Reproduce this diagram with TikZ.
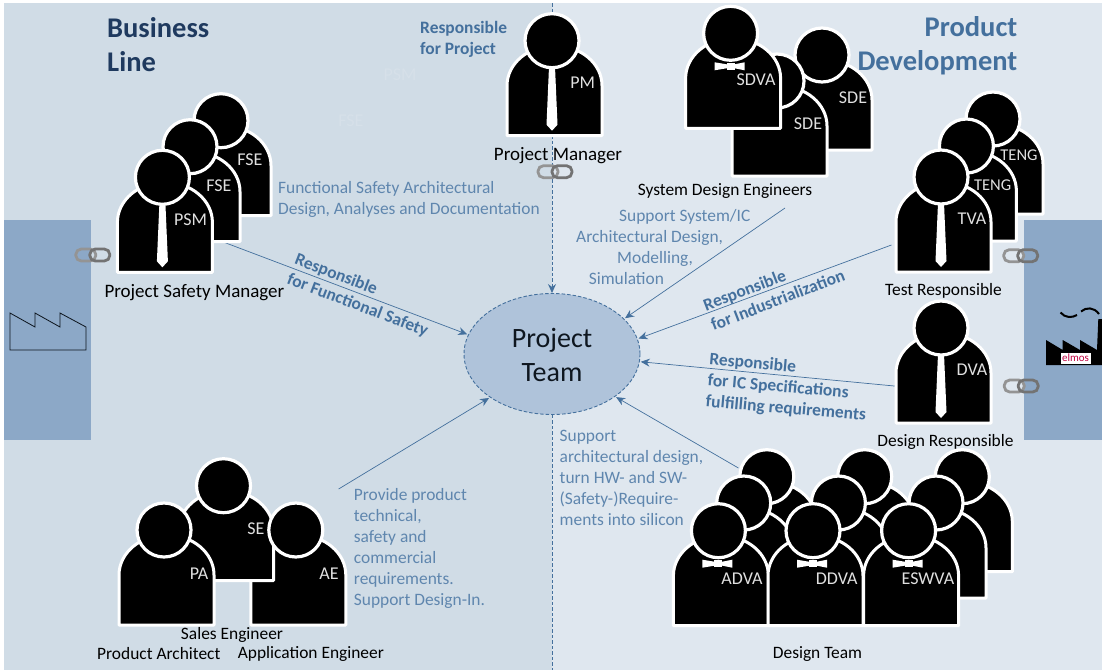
\documentclass[tikz,border=0pt]{standalone}
\usepackage{fontspec}
\setmainfont{Carlito}
\usetikzlibrary{arrows.meta,shapes.geometric}
\definecolor{leftpanel}{HTML}{D0DCE6}
\definecolor{rightpanel}{HTML}{DFE7EF}
\definecolor{sidebox}{HTML}{8CA8C7}
\definecolor{teamfill}{HTML}{AFC3DA}
\definecolor{linkblue}{HTML}{44709D}
\definecolor{noteblue}{HTML}{5F86AE}
\definecolor{titledark}{HTML}{1F3A5F}
\definecolor{ghosttext}{HTML}{D6E0E9}
\tikzset{
    bodyline/.style = {draw=white, fill=black, line width=3pt, line join=round},
    headline/.style = {draw=white, fill=black, line width=3.2pt},
    wearline/.style = {fill=white, draw=none},
    panellink/.style = {draw=#1, line width=2.8pt, rounded corners=5.5pt},
    toteam/.style = {draw=linkblue, line width=0.7pt, -{Stealth[length=9pt,width=8pt]}, shorten >=1pt},
    divider/.style = {draw=linkblue, line width=0.9pt, dash pattern=on 3.5pt off 2pt},
    badge/.style = {text=black!12, inner sep=0pt, font=\fontsize{18}{20}\selectfont},
    rolename/.style = {text=black, inner sep=0pt, font=\fontsize{17.4}{20}\selectfont},
    notetext/.style = {text=noteblue, align=left, anchor=west, inner sep=0pt, font=\fontsize{17.4}{21}\selectfont},
    dutytext/.style = {text=linkblue, align=left, anchor=west, inner sep=0pt, font=\bfseries\fontsize{17.4}{21}\selectfont},
    titletext/.style = {align=#1, inner sep=0pt, font=\bfseries\fontsize{28.5}{34}\selectfont},
}
\newcommand{\personbody}[2]{
    \begin{scope}[shift={(#1,#2)}]
        \draw[bodyline] (-45,95) -- (-45,45) .. controls (-45,23) and (-24,5) .. (2.5,5)
            .. controls (29,5) and (50,23) .. (50,45) -- (50,95) -- cycle;
    \end{scope}
}
\newcommand{\personhead}[2]{\draw[headline] (#1,#2) circle [radius=27];}
\newcommand{\person}[2]{\personbody{#1}{#2}\personhead{#1}{#2}}
\newcommand{\persontie}[2]{
    \begin{scope}[shift={(#1,#2)}]
        \fill[wearline] (-3,26) -- (3,26) -- (5.5,84) -- (0,90) -- (-5.5,84) -- cycle;
    \end{scope}
}
\newcommand{\personbow}[2]{
    \begin{scope}[shift={(#1,#2)}]
        \fill[wearline] (-16,29) -- (-4,31) -- (4,31) -- (14,29) -- (14,37) -- (4,35) -- (-4,35) -- (-16,37) -- cycle;
        \fill[wearline] (-4,29.5) rectangle (4,36.5);
    \end{scope}
}
\newcommand{\chainlinks}[2]{
    \begin{scope}[shift={(#1,#2)}]
        \draw[panellink=black!42] (-17,-6) rectangle (3,6);
        \draw[panellink=black!55] (-3,-6) rectangle (17,6);
    \end{scope}
}
\begin{document}
\begin{tikzpicture}[x=1pt, y=-1pt]
    \useasboundingbox (0,0) rectangle (1102,670);
    % panels
    \fill[leftpanel] (4,3) rectangle (552,670);
    \fill[rightpanel] (552,3) rectangle (1102,670);
    \fill[sidebox] (4,220) rectangle (91,440);
    \fill[sidebox] (1024,220) rectangle (1102,440);
    % faint leftovers
    \node[badge, text=ghosttext] (ghostpsm) at (400,75) {PSM};
    \node[badge, text=ghosttext] (ghostfse) at (351,121) {FSE};
    % factories
    \draw[black!80!linkblue, line width=0.8pt] (10,313) -- (35,327) -- (35,313) -- (60,327) -- (60,313) -- (86,327) -- (86,350) -- (10,350) -- cycle;
    \fill[black] (1046,340) -- (1062.7,350) -- (1062.7,340) -- (1080,350) -- (1080,340) -- (1097,350) -- (1098.3,319) -- (1102,319) -- (1102,365) -- (1046,365) -- cycle;
    \fill[white] (1061,353) rectangle (1091,363.5);
    \node[text=purple, inner sep=0pt, font=\fontsize{11}{11}\selectfont] (elmos) at (1075.5,358) {elmos};
    \draw[black, line width=2pt] (1060.5,312.5) .. controls (1065,318) and (1072,318) .. (1077,315);
    \draw[black, line width=2pt] (1081,311.5) .. controls (1086,307) and (1094,307) .. (1099,314);
    % centre
    \node[ellipse, minimum width=176pt, minimum height=121pt, inner sep=0pt, fill=teamfill, draw=linkblue, line width=0.9pt, dash pattern=on 3.5pt off 2pt] (team) at (552,354) {};
    \node[align=center, text=black!80!linkblue, font=\fontsize{28}{34}\selectfont] (teamname) at (552,355) {Project\\Team};
    % connectors
    \coordinate (topend) at (552,3);
    \coordinate (bottomend) at (552,670);
    \coordinate (psmstart) at (222.5,241.7);
    \coordinate (sdestart) at (785,208);
    \coordinate (tvastart) at (891.4,245);
    \coordinate (dvastart) at (901.6,386.7);
    \coordinate (teamstart) at (738.4,468);
    \coordinate (pastart) at (338.6,489);
    \draw[divider, -{Stealth[length=9pt,width=8pt]}] (topend) -- (team.north);
    \draw[divider] (team.south) -- (bottomend);
    \draw[toteam] (psmstart) -- (team.167);
    \draw[toteam] (sdestart) -- (team.26);
    \draw[toteam] (tvastart) -- (team.10);
    \draw[toteam] (dvastart) -- (team.-5);
    \draw[toteam] (teamstart) -- (team.-34);
    \draw[toteam] (pastart) -- (team.215);
    % safety
    \person{221}{120.7}
    \person{190}{146.7}
    \person{162.4}{177.3}
    \persontie{162.4}{177.3}
    \node[badge] (fseback) at (250,160) {FSE};
    \node[badge] (fsefront) at (219,186) {FSE};
    \node[badge] (psm) at (190.5,220) {PSM};
    % manager
    \person{552}{40.7}
    \persontie{552}{40.7}
    \node[badge] (pm) at (582.6,83) {PM};
    % system design
    \person{822}{55}
    \person{777}{81}
    \person{730.6}{33.3}
    \personbow{730.6}{33.3}
    \node[badge] (sdeback) at (853,98) {SDE};
    \node[badge] (sdefront) at (808,123.5) {SDE};
    \node[badge] (sdva) at (756,79.5) {SDVA};
    % test
    \person{993}{119}
    \person{966.4}{146}
    \person{941}{177}
    \persontie{941}{177}
    \node[badge, font=\fontsize{16.5}{18}\selectfont] (tengback) at (1019,155) {TENG};
    \node[badge, font=\fontsize{16.5}{18}\selectfont] (tengfront) at (992.6,185) {TENG};
    \node[badge] (tva) at (972,218.5) {TVA};
    % design responsible
    \person{941}{328}
    \persontie{941}{328}
    \node[badge] (dva) at (972,369.5) {DVA};
    % product people
    \personbody{295.8}{530}
    \person{223.5}{485.7}
    \personhead{295.8}{530}
    \person{164}{530}
    \node[badge] (se) at (256,528.5) {SE};
    \node[badge] (ae) at (329,573.5) {AE};
    \node[badge] (pa) at (199,573.5) {PA};
    % design team
    \foreach \headx in {766.8,864.7,962.3} {\person{\headx}{476.7}}
    \foreach \headx in {743.7,838.4,936} {\person{\headx}{503}}
    \foreach \headx in {718.4,813,908.6} {
        \person{\headx}{530.7}
        \personbow{\headx}{530.7}
    }
    \node[badge] (adva) at (742,578.5) {ADVA};
    \node[badge] (ddva) at (836.7,578.5) {DDVA};
    \node[badge] (eswva) at (928,578.5) {ESWVA};
    % links
    \chainlinks{92.8}{255}
    \chainlinks{555}{171.7}
    \chainlinks{1020.7}{255.7}
    \chainlinks{1021.2}{386}
    % titles
    \node[titletext=left, text=titledark, anchor=west] (business) at (107,44.5) {Business\\Line};
    \node[titletext=right, text=linkblue, anchor=east] (product) at (1017.5,46) {Product\\Development};
    % role names
    \node[rolename, font=\fontsize{19}{20}\selectfont] (psmname) at (194.4,292.5) {Project Safety Manager};
    \node[rolename, font=\fontsize{19}{20}\selectfont] (pmname) at (558,156) {Project Manager};
    \node[rolename] (sdename) at (725,191.5) {System Design Engineers};
    \node[rolename] (tvaname) at (943.5,290.5) {Test Responsible};
    \node[rolename] (dvaname) at (945.5,441.5) {Design Responsible};
    \node[rolename] (teamrole) at (817.5,654) {Design Team};
    \node[rolename] (sename) at (232,635) {Sales Engineer};
    \node[rolename] (paname) at (158.8,654) {Product Architect};
    \node[rolename] (aename) at (310.9,654) {Application Engineer};
    % notes
    \node[dutytext] (dutypm) at (420,39.5) {Responsible\\for Project};
    \node[dutytext, rotate=-21] (dutypsm) at (291.5,269) {Responsible\\for Functional Safety};
    \node[dutytext, rotate=21] (dutytva) at (707.5,315.5) {Responsible\\for Industrialization};
    \node[dutytext, rotate=-5] (dutydva) at (707.5,381) {Responsible\\for IC Specifications\\fulfilling requirements};
    \node[notetext] (notefse) at (278,199.5) {Functional Safety Architectural\\Design, Analyses and Documentation};
    \node[notetext] (notesde) at (576,247.5) {\hspace*{43pt}Support System/IC\\Architectural Design,\\\hspace*{41pt}Modelling,\\\hspace*{12.6pt}Simulation};
    \node[notetext] (notepa) at (353.7,548) {Provide product\\technical,\\safety and\\commercial\\requirements.\\Support Design-In.};
    \node[notetext] (noteteam) at (559.5,478) {Support\\architectural design,\\turn HW- and SW-\\(Safety-)Require-\\ments into silicon};
\end{tikzpicture}
\end{document}
